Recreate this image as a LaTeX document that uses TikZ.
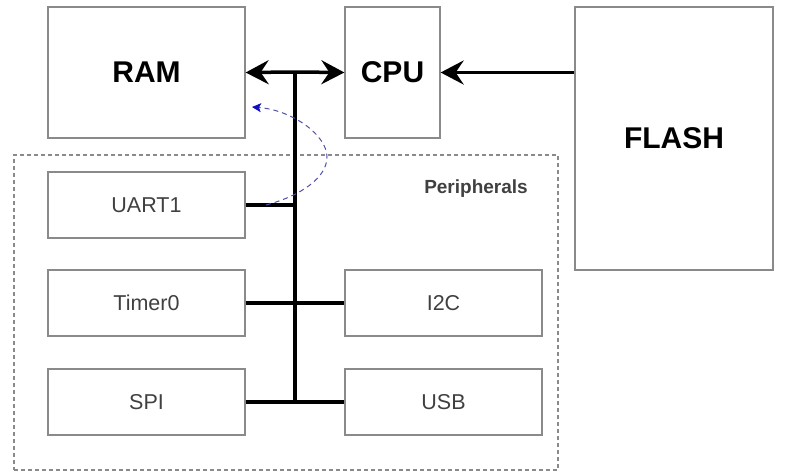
\documentclass[tikz,border=0pt]{standalone}
\usepackage{fontspec}
\setmainfont{Liberation Sans}
\usetikzlibrary{arrows.meta}
\definecolor{boxgray}{HTML}{8A8A8A}
\definecolor{txtgray}{HTML}{404040}
\definecolor{curveblue}{HTML}{5050A8}
\definecolor{tipblue}{HTML}{1010C0}
\begin{document}
\begin{tikzpicture}[x=1pt,y=-1pt,
  bigbox/.style={draw=boxgray,line width=1.3pt,rectangle,inner sep=0pt,font=\fontsize{30}{34}\selectfont\bfseries,text=black},
  smallbox/.style={draw=boxgray,line width=1.3pt,rectangle,inner sep=0pt,minimum width=197pt,minimum height=66pt,font=\fontsize{21.5}{25}\selectfont,text=txtgray},
  groupbox/.style={draw=boxgray,line width=1.1pt,dash pattern=on 4pt off 3pt,rectangle,inner sep=0pt},
  bus/.style={line width=3.5pt,black},
  bigtip/.style={-{Stealth[length=23pt,width=24pt,inset=8pt]}},
  curve/.style={curveblue,line width=1pt,dash pattern=on 5pt off 4pt,-{Stealth[length=9pt,width=9pt,inset=2pt,color=tipblue]}}
]
\useasboundingbox (0,0) rectangle (792,475);
\node[groupbox,minimum width=544pt,minimum height=315pt] (per) at (286,312.5) {};
\node[font=\fontsize{19}{22}\selectfont\bfseries,text=txtgray] (perlbl) at (476,189) {Peripherals};

\node[bigbox,minimum width=197pt,minimum height=131pt] (ram) at (146.5,72.5) {RAM};
\node[bigbox,minimum width=95pt,minimum height=131pt] (cpu) at (392.5,72.5) {CPU};
\node[bigbox,minimum width=198pt,minimum height=263pt] (flash) at (674,138.5) {FLASH};

\node[smallbox] (uart) at (146.5,205) {UART1};
\node[smallbox] (timer) at (146.5,303) {Timer0};
\node[smallbox] (spi) at (146.5,402) {SPI};
\node[smallbox] (i2c) at (443.5,303) {I2C};
\node[smallbox] (usb) at (443.5,402) {USB};

\coordinate (btop) at (295,72);
\coordinate (bbot) at (295,403.75);
\coordinate (cstart) at (266,205);

\draw[bus] (btop) -- (bbot);
\draw[bus,bigtip] (btop) -- (ram.east);
\draw[bus,bigtip] (btop) -- (cpu.west);
\draw[bus,bigtip] (flash.west |- cpu.west) -- (cpu.east);
\draw[bus] (uart.east) -- (uart.east -| btop);
\draw[bus] (timer.east) -- (i2c.west);
\draw[bus] (spi.east) -- (usb.west);

\draw[curve] (cstart) .. controls (300,196) and (327,178) .. (327,157)
  .. controls (327,135) and (292,110) .. (252,107);
\end{tikzpicture}
\end{document}
